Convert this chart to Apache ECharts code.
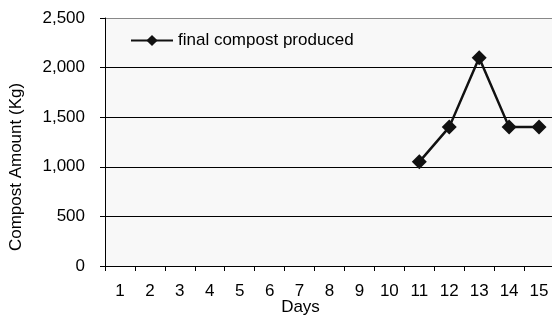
<!DOCTYPE html>
<html>
<head>
<meta charset="utf-8">
<script src="https://cdn.jsdelivr.net/npm/echarts@6/dist/echarts.min.js"></script>
<style>
html,body{margin:0;padding:0;background:#fff;}
#chart{width:552px;height:320px;}
</style>
</head>
<body>
<div id="chart"></div>
<script>
const days = ['1','2','3','4','5','6','7','8','9','10','11','12','13','14','15'];
const compostProduced = [null,null,null,null,null,null,null,null,null,null,1050,1400,2100,1400,1400];
const seriesName = 'final compost produced';
const yTitle = 'Compost Amount (Kg)';
const xTitle = 'Days';

const font = 'Liberation Sans, Arial, sans-serif';
const chart = echarts.init(document.getElementById('chart'), null, {renderer:'canvas'});
chart.setOption({
  animation:false,
  backgroundColor:'#ffffff',
  grid:{left:105, top:18, width:449, bottom:54, show:true, backgroundColor:'#f8f8f8', borderWidth:0,
        containLabel:false, outerBoundsMode:'none'},
  legend:{
    left:125, top:27, itemWidth:42, itemHeight:14, itemGap:5,
    data:[seriesName],
    textStyle:{fontFamily:font, fontSize:17, color:'#000'}
  },
  xAxis:{
    type:'category', data:days, boundaryGap:true,
    name:xTitle, nameLocation:'middle', nameGap:33, nameMoveOverlap:false,
    nameTextStyle:{fontFamily:font, fontSize:17, color:'#000', padding:[0,58,0,0]},
    axisLine:{lineStyle:{color:'#000', width:1}},
    axisTick:{show:true, length:5, lineStyle:{color:'#000'}, interval:0},
    axisLabel:{interval:0, margin:17, fontFamily:font, fontSize:17, color:'#000'},
    splitLine:{show:false}
  },
  yAxis:{
    type:'value', min:0, max:2500, interval:500,
    name:yTitle, nameLocation:'middle', nameGap:80,
    nameTextStyle:{fontFamily:font, fontSize:17, color:'#000', padding:[0,50,0,0]},
    axisLine:{show:true, lineStyle:{color:'#000', width:1}},
    axisTick:{show:true, length:5, lineStyle:{color:'#000'}},
    axisLabel:{margin:20, fontFamily:font, fontSize:17, color:'#000'},
    splitLine:{show:true, lineStyle:{color:['#000','#000','#000','#000','#000','#888'], width:1}}
  },
  series:[{
    name:seriesName, type:'line', data:compostProduced,
    connectNulls:false,
    symbol:'diamond', symbolSize:15,
    lineStyle:{color:'#111', width:2.5},
    itemStyle:{color:'#111'}
  }]
});
</script>
</body>
</html>
